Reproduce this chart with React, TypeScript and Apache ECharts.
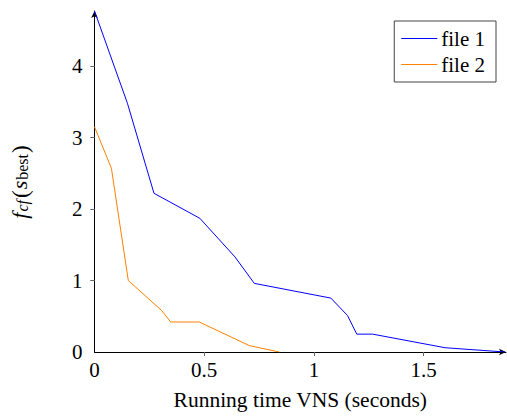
import React, { useEffect, useRef } from "react";
import * as echarts from "echarts";

const file1X = [0, 0.15, 0.271, 0.48, 0.64, 0.728, 1.077, 1.153, 1.195, 1.267, 1.597, 1.87];
const file1Y = [4.77, 3.48, 2.22, 1.87, 1.33, 0.96, 0.754, 0.51, 0.25, 0.25, 0.06, 0];
const file2X = [0, 0.077, 0.154, 0.306, 0.347, 0.477, 0.705, 0.842];
const file2Y = [3.15, 2.57, 1.0, 0.58, 0.42, 0.42, 0.09, 0];
const xTicks = [0, 0.5, 1, 1.5];
const yTicks = [0, 1, 2, 3, 4];
const seriesNames = ["file 1", "file 2"];

const FONT = "'Liberation Serif', 'Times New Roman', serif";

export default function App() {
  const ref = useRef<HTMLDivElement>(null);
  useEffect(() => {
    if (!ref.current) return;
    const chart = echarts.init(ref.current, null, { renderer: "svg" });
    const xMax = 1.875;
    const yMax = 4.77;
    const baseX = {
      type: "value",
      min: 0,
      max: xMax,
      splitLine: { show: false },
    };
    const baseY = {
      type: "value",
      min: 0,
      max: yMax,
      splitLine: { show: false },
    };
    chart.setOption({
      animation: false,
      grid: { left: 94.5, right: 1, top: 11, bottom: 61.7, containLabel: false },
      legend: {
        orient: "vertical",
        right: 11,
        top: 21,
        data: seriesNames,
        icon: "rect",
        itemWidth: 36,
        itemHeight: 1.2,
        itemGap: 5,
        padding: [7, 11, 7, 7],
        borderColor: "#444",
        borderWidth: 1,
        borderRadius: 0,
        textStyle: { fontFamily: FONT, fontSize: 21, color: "#000", padding: [0, 0, 0, -1] },
      },
      xAxis: [
        {
          ...baseX,
          name: "Running time VNS (seconds)",
          nameLocation: "middle",
          nameGap: 37,
          nameTextStyle: { fontFamily: FONT, fontSize: 21.5, color: "#000" },
          axisLine: {
            show: true,
            lineStyle: { color: "#000", width: 1 },
            symbol: ["none", "arrow"],
            symbolSize: [5, 7],
          },
          axisTick: {
            show: true,
            length: 4,
            lineStyle: { color: "#666" },
            customValues: xTicks.filter((v) => v > 0),
          },
          axisLabel: {
            fontFamily: FONT,
            fontSize: 21,
            color: "#000",
            margin: 7,
            customValues: xTicks,
            formatter: (v: number) => String(v),
          },
        },
        {
          ...baseX,
          axisLine: { show: false },
          axisTick: {
            show: true,
            inside: true,
            length: 4,
            lineStyle: { color: "#666" },
            customValues: xTicks.filter((v) => v > 0),
          },
          axisLabel: { show: false },
        },
      ],
      yAxis: [
        {
          ...baseY,
          name: "{f|f}{sub|cf}{n|(}{f|s}{subr|best}{n|)}",
          nameLocation: "middle",
          nameRotate: 90,
          nameGap: 64,
          nameTextStyle: {
            fontFamily: FONT,
            fontSize: 22,
            color: "#000",
            rich: {
              f: {
                fontFamily: FONT,
                fontStyle: "italic",
                fontSize: 22,
                lineHeight: 22,
                verticalAlign: "top",
                color: "#000",
                padding: [0, 1, 0, 0],
              },
              n: {
                fontFamily: FONT,
                fontSize: 23,
                lineHeight: 22,
                verticalAlign: "top",
                color: "#000",
                padding: [0, 1, 0, 1],
              },
              sub: {
                fontFamily: FONT,
                fontStyle: "italic",
                fontSize: 16,
                lineHeight: 10,
                verticalAlign: "bottom",
                color: "#000",
                padding: [0, 1, 0, 0],
              },
              subr: {
                fontFamily: FONT,
                fontSize: 16,
                lineHeight: 10,
                verticalAlign: "bottom",
                color: "#000",
              },
            },
          },
          axisLine: {
            show: true,
            lineStyle: { color: "#000", width: 1 },
            symbol: ["none", "arrow"],
            symbolSize: [5, 7],
          },
          axisTick: {
            show: true,
            length: 4,
            lineStyle: { color: "#666" },
            customValues: yTicks.filter((v) => v > 0),
          },
          axisLabel: {
            fontFamily: FONT,
            fontSize: 21,
            color: "#000",
            margin: 12,
            customValues: yTicks,
            formatter: (v: number) => String(v),
          },
        },
        {
          ...baseY,
          axisLine: { show: false },
          axisTick: {
            show: true,
            inside: true,
            length: 4,
            lineStyle: { color: "#666" },
            customValues: yTicks.filter((v) => v > 0),
          },
          axisLabel: { show: false },
        },
      ],
      series: [
        {
          name: seriesNames[0],
          type: "line",
          data: file1X.map((x, i) => [x, file1Y[i]]),
          showSymbol: false,
          symbol: "none",
          lineStyle: { color: "#0000ff", width: 1 },
          itemStyle: { color: "#0000ff" },
          z: 3,
        },
        {
          name: seriesNames[1],
          type: "line",
          data: file2X.map((x, i) => [x, file2Y[i]]),
          showSymbol: false,
          symbol: "none",
          lineStyle: { color: "#ff8000", width: 1 },
          itemStyle: { color: "#ff8000" },
          z: 2,
        },
      ],
    });
    return () => chart.dispose();
  }, []);
  return <div ref={ref} style={{ width: 507, height: 416, position: "absolute", left: 0, top: 0 }} />;
}
